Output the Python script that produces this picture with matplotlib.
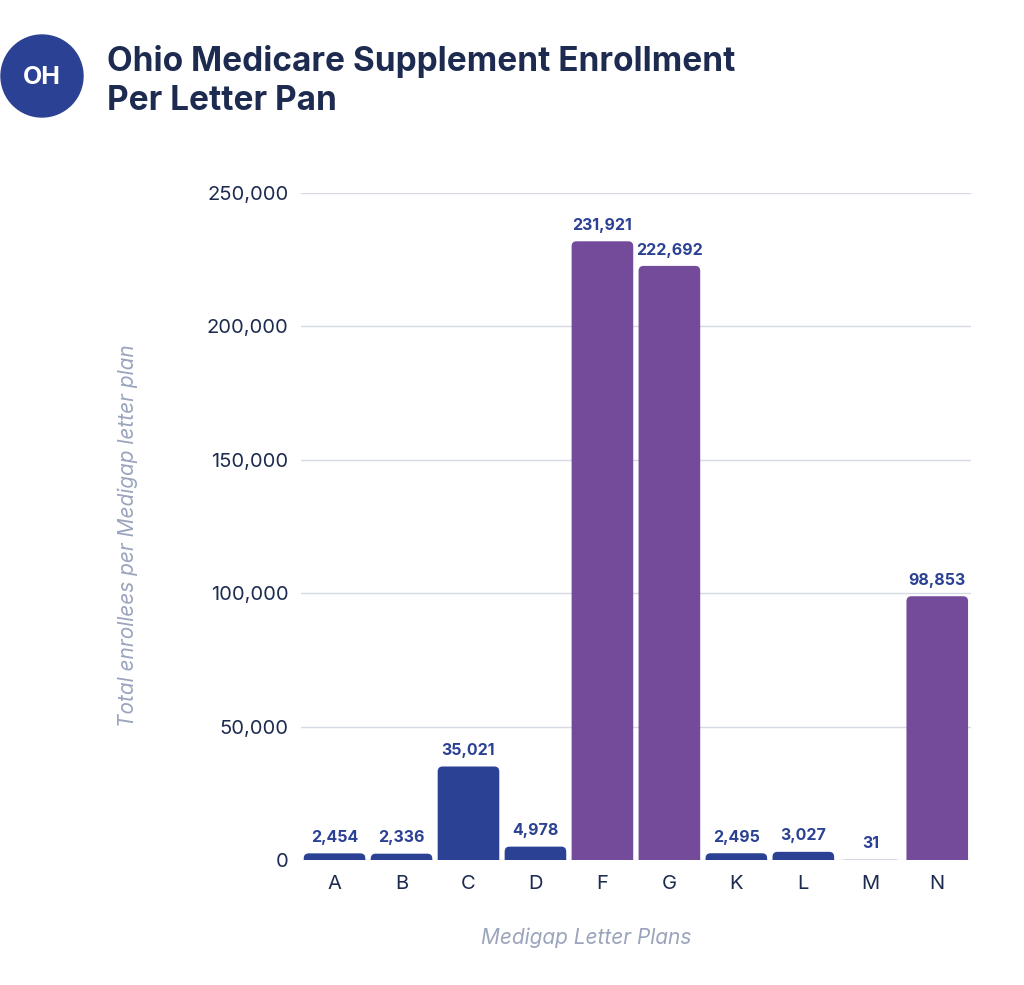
import matplotlib
matplotlib.use("Agg")
import matplotlib.pyplot as plt
from matplotlib.patches import Circle, FancyBboxPatch
from matplotlib.ticker import FuncFormatter

plt.rcParams['font.family'] = ['Inter', 'DejaVu Sans']

# data
plans = ['A', 'B', 'C', 'D', 'F', 'G', 'K', 'L', 'M', 'N']
enrollees = [2454, 2336, 35021, 4978, 231921, 222692, 2495, 3027, 31, 98853]
purple_plans = ['F', 'G', 'N']

navy = '#1c2b4f'
blue = '#2b4194'
purple = '#744a9b'
grey = '#9ba4bd'

fig = plt.figure(figsize=(10.24, 9.85), dpi=100)
ax = fig.add_axes([0.294, 0.127, 0.654, 0.677])

ax.set_xlim(-0.5, len(plans) - 0.5)
ax.set_ylim(0, 250000)

# data units per pixel, so the rounded corners come out round
bb = ax.get_window_extent()
ux = len(plans) / bb.width
uy = 250000 / bb.height
r_px = 5
aspect = uy / ux

colors = [purple if p in purple_plans else blue for p in plans]
x = list(range(len(plans)))
bars = ax.bar(x, enrollees, width=0.92, color=colors, zorder=3)
for b, c in zip(bars, colors):
    b.set_visible(False)
    # start below zero so only the top corners show rounded
    patch = FancyBboxPatch((b.get_x(), -r_px * uy), b.get_width(), b.get_height() + r_px * uy,
                           boxstyle=f'round,pad=0,rounding_size={r_px * ux}',
                           mutation_aspect=aspect, facecolor=c, edgecolor='none',
                           zorder=3)
    ax.add_patch(patch)

for b, v in zip(bars, enrollees):
    ax.annotate(f'{v:,}', (b.get_x() + b.get_width() / 2, v),
                xytext=(0, 6), textcoords='offset points',
                ha='center', va='bottom', fontsize=11.5, fontweight='bold',
                color=blue)

ax.set_yticks(range(0, 250001, 50000))
ax.yaxis.set_major_formatter(FuncFormatter(lambda v, p: f'{int(v):,}'))
ax.set_xticks(x)
ax.set_xticklabels(plans)
ax.tick_params(axis='both', length=0, labelsize=14.5, colors=navy)
ax.tick_params(axis='y', pad=9)
ax.tick_params(axis='x', pad=11)
ax.grid(axis='y', color='#d5dae3', linewidth=1, zorder=0)
for s in ax.spines.values():
    s.set_visible(False)

fig.text(128 / 1024, 1 - 536 / 985, 'Total enrollees per Medigap letter plan',
         fontsize=15, style='italic', color=grey, rotation=90,
         ha='center', va='center')
fig.text(586 / 1024, 1 - 938 / 985, 'Medigap Letter Plans', fontsize=15,
         style='italic', color=grey, ha='center', va='center')

# header
fig.text(107 / 1024, 1 - 81 / 985, 'Ohio Medicare Supplement Enrollment\nPer Letter Pan',
         fontsize=24, fontweight='bold', color=navy, va='center', ha='left',
         linespacing=1.28)
badge = fig.add_axes([0, 1 - 118 / 985, 84 / 1024, 84 / 985])
badge.set_xlim(0, 84)
badge.set_ylim(0, 84)
badge.set_aspect('equal')
badge.axis('off')
badge.add_patch(Circle((42, 42), 41, color=blue))
badge.text(42, 41, 'OH', color='white', fontsize=18, fontweight='bold',
           ha='center', va='center')

fig.savefig('out.png', dpi=100, facecolor='white')
